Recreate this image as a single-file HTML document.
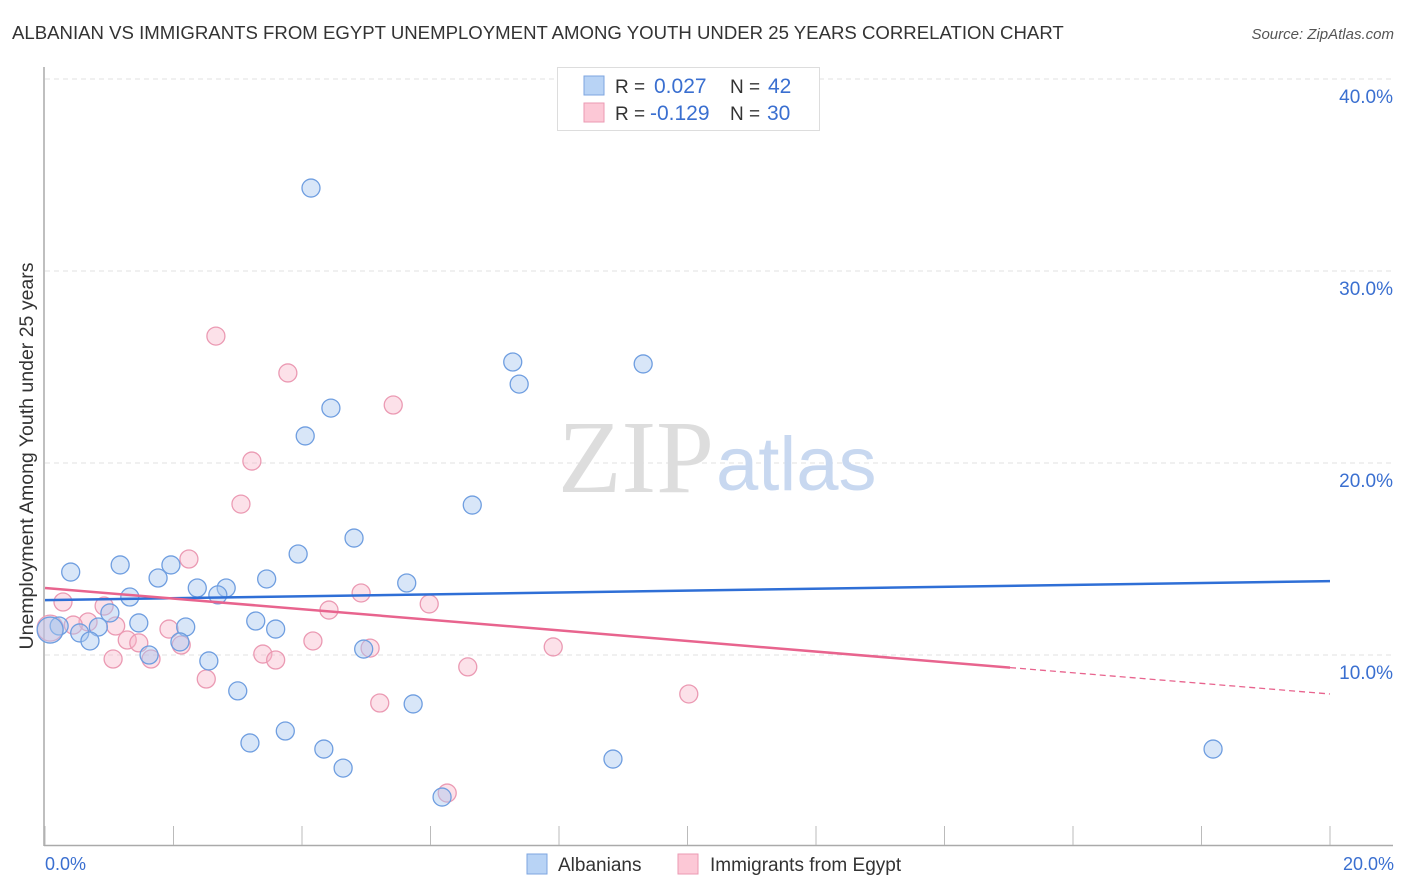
<!DOCTYPE html>
<html><head><meta charset="utf-8"><style>
body{margin:0;background:#fff;width:1406px;height:892px;overflow:hidden;font-family:"Liberation Sans",sans-serif}
svg{display:block}
</style></head><body>
<svg id="chart" width="1406" height="892" font-family="Liberation Sans, sans-serif">
<text x="12" y="39" font-size="18.6" fill="#333">ALBANIAN VS IMMIGRANTS FROM EGYPT UNEMPLOYMENT AMONG YOUTH UNDER 25 YEARS CORRELATION CHART</text>
<text x="1394" y="39" font-size="15" fill="#555" font-style="italic" text-anchor="end">Source: ZipAtlas.com</text>
<text x="33" y="456" font-size="19.5" fill="#333" text-anchor="middle" transform="rotate(-90 33 456)">Unemployment Among Youth under 25 years</text>
<g id="grid"></g>
<text x="714" y="492" font-size="104" fill="#ddd" font-family="Liberation Serif, serif" text-anchor="end">ZIP</text>
<text x="716" y="490" font-size="76" fill="#c8d8f0">atlas</text>
<line x1="44" y1="67" x2="44" y2="846" stroke="#aaa" stroke-width="1.5"/>
<line x1="44" y1="845.5" x2="1393" y2="845.5" stroke="#aaa" stroke-width="1.5"/>
<g id="ticks"></g>
<g id="pts"></g>
<g id="trend"></g>
<text x="45" y="870" font-size="18" fill="#3a6fd0">0.0%</text>
<text x="1394" y="870" font-size="18" fill="#3a6fd0" text-anchor="end">20.0%</text>
<g>
<rect x="557.5" y="67.5" width="262" height="63" fill="#fff" stroke="#ddd"/>
<rect x="584" y="76" width="20" height="19" fill="#b8d3f5" stroke="#7ea6e0"/>
<rect x="584" y="103" width="20" height="19" fill="#fcc8d6" stroke="#eb9ab3"/>
<text x="615" y="93" font-size="19" fill="#333">R = </text><text x="654" y="93" font-size="21" fill="#3a6fd0">0.027</text>
<text x="730" y="93" font-size="19" fill="#333">N = </text><text x="768" y="93" font-size="21" fill="#3a6fd0">42</text>
<text x="615" y="120" font-size="19" fill="#333">R = </text><text x="650" y="120" font-size="21" fill="#3a6fd0">-0.129</text>
<text x="730" y="120" font-size="19" fill="#333">N = </text><text x="767" y="120" font-size="21" fill="#3a6fd0">30</text>
</g>
<g>
<rect x="527" y="854" width="20" height="20" fill="#b8d3f5" stroke="#7ea6e0"/>
<text x="558" y="871" font-size="19" fill="#333">Albanians</text>
<rect x="678" y="854" width="20" height="20" fill="#fcc8d6" stroke="#eb9ab3"/>
<text x="710" y="871" font-size="19" fill="#333">Immigrants from Egypt</text>
</g>
</svg>
<script>
const yTicks=[10,20,30,40];
const yTickLabels=["10.0%","20.0%","30.0%","40.0%"];
const xTicks=[0,2,4,6,8,10,12,14,16,18,20];
const blueX=[4.14,7.28,7.38,9.31,4.45,4.05,6.65,4.81,3.94,5.63,0.40,1.17,1.96,1.76,3.45,2.37,2.82,2.69,1.32,1.01,1.46,2.19,3.28,3.59,0.83,0.54,0.22,0.70,0.08,1.62,2.10,2.55,4.96,3.00,5.73,3.19,3.74,4.34,4.64,6.18,8.84,18.18];
const blueY=[34.32,25.26,24.11,25.16,22.86,21.41,17.81,16.09,15.26,13.75,14.32,14.69,14.69,14.01,13.96,13.49,13.49,13.13,13.02,12.19,11.67,11.46,11.77,11.35,11.46,11.15,11.51,10.73,11.3,10.0,10.68,9.69,10.31,8.13,7.45,5.42,6.04,5.10,4.11,2.60,4.58,5.10];
const pinkX=[2.66,3.78,5.42,3.22,3.05,2.24,4.92,4.42,5.98,0.28,0.92,0.67,0.44,1.10,1.93,1.28,1.46,2.12,4.17,5.06,7.91,3.39,3.59,1.65,1.06,6.58,2.51,5.21,10.02,6.26,0.08];
const pinkY=[26.61,24.69,23.02,20.10,17.86,15.0,13.23,12.34,12.66,12.76,12.55,11.72,11.56,11.51,11.35,10.78,10.63,10.52,10.73,10.36,10.42,10.05,9.74,9.79,9.79,9.38,8.75,7.5,7.97,2.81,11.4];
const blueTrend=[12.86,13.85];
const pinkTrend=[13.49,7.97];
const pinkSolidEnd=15.02;
const NS="http://www.w3.org/2000/svg";
const sx=v=>45+v/20*1285;
const sy=v=>847-v*19.2;
function mk(tag,a,parent){const e=document.createElementNS(NS,tag);for(const k in a)e.setAttribute(k,a[k]);document.getElementById(parent).appendChild(e);return e;}
yTicks.forEach((t,i)=>{
 const l=mk('line',{x1:45,x2:1393,y1:sy(t),y2:sy(t),stroke:'#e2e2e2','stroke-dasharray':'5,4'},'grid');
 
 
 const tx=mk('text',{x:1393,y:sy(t)+24,'font-size':19,fill:'#3a6fd0','text-anchor':'end'},'grid');
 tx.textContent=yTickLabels[i];
 
 
});
xTicks.forEach(t=>{
 const l=mk('line',{x1:sx(t),x2:sx(t),y1:826,y2:845,stroke:'#bbb'},'ticks');
 
 
});
function pt(x,y,fill,stroke,r){
 return mk('circle',{cx:sx(x),cy:sy(y),r:r,fill:fill,stroke:stroke,'stroke-width':1.3},'pts');
}
pinkX.forEach((x,i)=>{const c=pt(x,pinkY[i],'rgba(248,180,200,0.4)','#eb9ab3',i==30?13:9);
 
 });
blueX.forEach((x,i)=>{const c=pt(x,blueY[i],'rgba(168,200,240,0.45)','#6f9ee0',i==28?13:9);
 
 });
const bl=mk('line',{x1:sx(0),y1:sy(blueTrend[0]),x2:sx(20),y2:sy(blueTrend[1]),stroke:'#2f6fd6','stroke-width':2.5},'trend');


const pm=pinkTrend[0]+(pinkTrend[1]-pinkTrend[0])*pinkSolidEnd/20;
const pl=mk('line',{x1:sx(0),y1:sy(pinkTrend[0]),x2:sx(pinkSolidEnd),y2:sy(pm),stroke:'#e8648e','stroke-width':2.5},'trend');


const pd=mk('line',{x1:sx(pinkSolidEnd),y1:sy(pm),x2:sx(20),y2:sy(pinkTrend[1]),stroke:'#e8648e','stroke-width':1.3,'stroke-dasharray':'6,4'},'trend');


</script>
</body></html>
